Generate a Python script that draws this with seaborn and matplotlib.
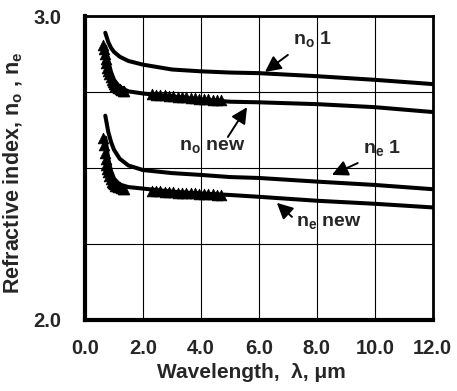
import numpy as np
import pandas as pd
import matplotlib
matplotlib.use("Agg")
import matplotlib.pyplot as plt
import seaborn as sns

# smooth model curves
wl_fit = [0.7, 0.8, 0.9, 1.0, 1.2, 1.5, 2.0, 3.0, 4.0, 5.0, 6.0, 8.0, 10.0, 12.0]
no_1 = [2.945, 2.915, 2.895, 2.882, 2.866, 2.852, 2.840, 2.824, 2.818, 2.814, 2.812, 2.802, 2.790, 2.776]
no_new = [2.900, 2.850, 2.815, 2.790, 2.765, 2.752, 2.745, 2.735, 2.725, 2.718, 2.716, 2.710, 2.700, 2.684]
ne_1 = [2.672, 2.620, 2.585, 2.560, 2.530, 2.508, 2.493, 2.483, 2.477, 2.470, 2.467, 2.455, 2.444, 2.430]
ne_new = [2.600, 2.530, 2.490, 2.465, 2.445, 2.437, 2.432, 2.422, 2.416, 2.411, 2.405, 2.392, 2.382, 2.370]

# measured points (triangles)
wl_meas = [0.62, 0.65, 0.68, 0.71, 0.74, 0.77, 0.80, 0.84, 0.88, 0.92, 0.96, 1.00, 1.05, 1.10,
           1.15, 1.20, 1.25, 1.30, 1.35,
           2.30, 2.45, 2.60, 2.75, 2.90, 3.05, 3.20, 3.35, 3.50, 3.65, 3.80, 3.95, 4.10, 4.25,
           4.40, 4.55, 4.70]
no_meas = [2.905, 2.890, 2.875, 2.860, 2.845, 2.830, 2.820, 2.810, 2.800, 2.790, 2.783, 2.777,
           2.770, 2.766, 2.762, 2.759, 2.756, 2.754, 2.752,
           2.742, 2.741, 2.740, 2.739, 2.737, 2.736, 2.735, 2.733, 2.732, 2.731, 2.729, 2.728,
           2.727, 2.726, 2.725, 2.724, 2.723]
ne_meas = [2.600, 2.575, 2.550, 2.530, 2.510, 2.495, 2.485, 2.472, 2.462, 2.455, 2.450, 2.446,
           2.442, 2.440, 2.438, 2.436, 2.434, 2.432, 2.430,
           2.425, 2.424, 2.423, 2.422, 2.421, 2.420, 2.419, 2.418, 2.417, 2.416, 2.416, 2.415,
           2.414, 2.414, 2.413, 2.412, 2.412]

# curve labels: text position, arrow tail, arrow head
labels = ["n$_o$ 1", "n$_o$ new", "n$_e$ 1", "n$_e$ new"]
label_pos = [(7.86, 2.925), (4.38, 2.572), (10.24, 2.566), (8.41, 2.322)]
arrow_tail = [(7.0, 2.872), (4.93, 2.602), (9.41, 2.516), (7.14, 2.339)]
arrow_head = [(6.21, 2.816), (5.59, 2.700), (8.52, 2.477), (6.62, 2.385)]

fit = pd.DataFrame({"wl": wl_fit, "no1": no_1, "nonew": no_new, "ne1": ne_1, "nenew": ne_new})
meas = pd.DataFrame({"wl": wl_meas, "no": no_meas, "ne": ne_meas})

sns.set_style("white")
plt.rcParams["font.family"] = ["Liberation Sans", "DejaVu Sans"]
plt.rcParams["font.weight"] = "bold"
plt.rcParams["mathtext.fontset"] = "custom"
plt.rcParams["mathtext.rm"] = "Liberation Sans:bold"
plt.rcParams["mathtext.bf"] = "Liberation Sans:bold"
plt.rcParams["mathtext.it"] = "Liberation Sans:bold"
plt.rcParams["mathtext.default"] = "bf"

fig = plt.figure(figsize=(4.57, 3.91), dpi=100)
ax = fig.add_axes([0.186, 0.182, 0.761, 0.777])

for col in ["no1", "nonew", "ne1", "nenew"]:
    sns.lineplot(data=fit, x="wl", y=col, ax=ax, color="black", lw=2.9, zorder=3)
for col in ["no", "ne"]:
    sns.scatterplot(data=meas, x="wl", y=col, ax=ax, marker="^", s=60, color="black",
                    edgecolor="black", linewidth=0.5, zorder=4)

ax.set_xlim(0, 12)
ax.set_ylim(2.0, 3.0)
ax.set_xticks(np.arange(0, 12.1, 2))
ax.set_xticklabels([f"{v:.1f}" for v in np.arange(0, 12.1, 2)])
ax.set_yticks([2.0, 2.25, 2.5, 2.75, 3.0])
ax.set_yticklabels(["2.0", "", "", "", "3.0"])
ax.grid(True, color="black", lw=0.8)
ax.tick_params(axis="both", labelsize=14.5, length=3, width=3, color="black")
ax.tick_params(axis="x", pad=11)
ax.tick_params(axis="y", pad=14)
for lab in ax.get_xticklabels() + ax.get_yticklabels():
    lab.set_fontweight("bold")

for side in ["left", "bottom"]:
    ax.spines[side].set_linewidth(3)
for side in ["top", "right"]:
    ax.spines[side].set_linewidth(2)
for sp in ax.spines.values():
    sp.set_color("black")

ax.set_xlabel("Wavelength,  λ, μm", fontsize=15, fontweight="bold")
ax.set_ylabel("Refractive index, n$_o$ , n$_e$", fontsize=15.5, fontweight="bold")
ax.xaxis.set_label_coords(0.477, -0.141)
ax.yaxis.set_label_coords(-0.172, 0.485)

for txt, pos, tail, head in zip(labels, label_pos, arrow_tail, arrow_head):
    ax.text(pos[0], pos[1], txt, fontsize=14, ha="center", va="center")
    ax.annotate("", xy=head, xytext=tail,
                arrowprops=dict(arrowstyle="-|>", color="black", lw=1.4, mutation_scale=24,
                                shrinkA=0, shrinkB=0))

fig.savefig("out.png", dpi=100)
